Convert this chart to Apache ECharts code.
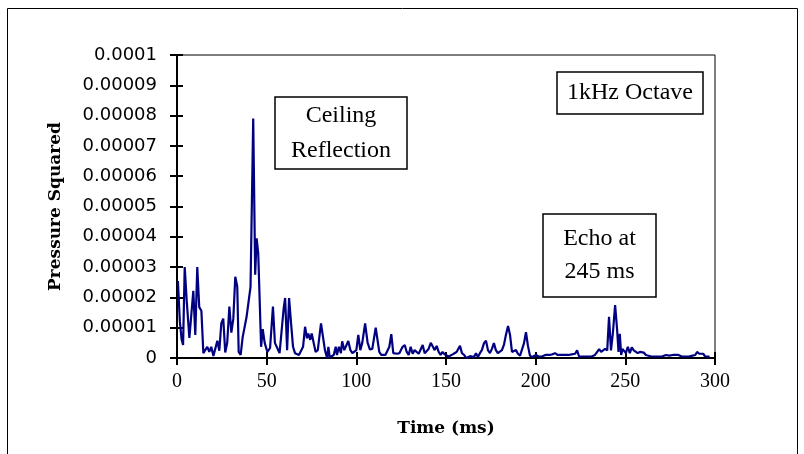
<!DOCTYPE html>
<html>
<head>
<meta charset="utf-8">
<script src="https://cdn.jsdelivr.net/npm/echarts@6/dist/echarts.min.js"></script>
<style>html,body{margin:0;padding:0;background:#fff;}#c{width:804px;height:454px;}</style>
</head>
<body>
<div id="c"></div>
<script>
// Time in ms
const times = [0.5,1.6,2.6,3.4,4.3,5.4,6.9,8.0,9.1,10.2,11.3,12.4,13.6,14.7,15.8,16.9,18.0,19.1,20.3,21.4,22.5,23.6,24.7,25.8,26.9,28.0,29.2,30.3,31.4,32.5,33.6,34.4,35.5,36.6,37.7,38.8,39.9,41.0,42.5,43.6,44.4,45.3,46.9,47.8,48.9,50.4,51.9,53.5,54.6,55.7,57.2,58.3,59.5,60.3,61.4,62.5,63.6,64.7,65.8,66.9,68.0,69.1,70.3,71.4,72.5,73.2,74.3,75.1,76.2,77.3,78.5,79.6,80.3,81.4,82.5,83.7,84.4,85.2,86.3,87.4,88.5,89.2,90.3,91.4,92.1,93.3,94.4,95.5,96.7,97.8,98.9,100.0,101.1,102.2,103.3,104.9,106.3,107.6,108.9,110.8,112.8,113.9,115.0,116.2,117.3,118.4,119.5,120.6,121.7,122.8,124.0,125.1,125.8,127.0,128.1,129.2,130.3,131.4,132.5,133.6,134.8,135.9,137.0,138.1,139.2,140.3,141.5,142.6,143.7,144.8,145.9,147.0,148.1,149.2,150.3,151.5,152.6,153.7,154.8,155.9,157.0,157.8,158.9,160.1,161.2,162.3,163.4,164.5,165.6,166.7,167.8,168.9,170.0,171.2,172.3,173.4,174.5,175.6,176.7,177.8,178.9,180.0,181.2,182.3,183.4,184.6,185.7,186.8,187.9,189.0,190.1,191.3,192.4,193.5,194.6,195.7,196.8,198.0,199.0,200.2,201.7,203.5,205.4,206.4,207.5,209.3,210.8,212.3,214.5,216.4,218.2,220.1,222.0,223.1,224.2,225.7,226.8,227.9,229.4,231.2,233.1,234.2,235.4,236.5,237.6,238.7,239.9,240.9,242.0,243.1,244.3,245.4,246.2,246.9,247.7,248.4,249.2,250.3,251.4,252.5,253.6,254.7,255.8,256.9,258.1,259.2,260.3,261.4,262.5,264.5,266.5,268.5,270.5,272.6,274.5,276.5,279.6,281.5,283.3,285.5,287.5,289.0,290.0,291.2,292.3,293.4,294.5,296.0,297.0];
// Pressure squared, in units of 0.00001
const values = [2.54,1.2,0.6,0.43,3.0,1.9,0.66,0.72,2.22,0.76,3.0,1.68,1.56,0.16,0.18,0.37,0.2,0.37,0.07,0.1,0.57,0.24,1.14,1.3,0.18,0.5,1.7,0.84,1.29,2.68,2.35,0.2,0.1,0.68,0.7,1.36,1.36,2.35,7.9,2.75,3.95,3.45,0.37,0.95,0.5,0.2,0.33,1.7,0.5,0.55,0.16,0.2,1.65,1.98,0.26,1.98,1.15,0.37,0.16,0.2,0.1,0.1,0.37,1.03,0.65,0.81,0.6,0.81,0.5,0.2,0.26,0.2,1.14,1.1,0.26,0.0,0.37,0.02,0.05,0.1,0.37,0.1,0.37,0.16,0.55,0.26,0.26,0.56,0.26,0.16,0.2,0.26,0.76,0.26,0.5,1.14,0.5,0.28,0.3,1.0,0.2,0.1,0.16,0.1,0.1,0.37,0.79,0.16,0.1,0.14,0.16,0.14,0.37,0.43,0.2,0.1,0.37,0.14,0.26,0.3,0.14,0.18,0.43,0.16,0.1,0.3,0.5,0.5,0.26,0.4,0.2,0.1,0.2,0.12,0.1,0.05,0.1,0.12,0.14,0.2,0.26,0.4,0.16,0.1,0.0,0.03,0.06,0.1,0.03,0.16,0.03,0.16,0.26,0.49,0.57,0.26,0.16,0.3,0.49,0.26,0.16,0.12,0.26,0.43,0.76,1.06,0.76,0.2,0.14,0.26,0.14,0.08,0.14,0.49,0.85,0.4,0.08,0.03,0.06,0.1,0.05,0.05,0.1,0.16,0.1,0.12,0.16,0.1,0.1,0.1,0.1,0.12,0.14,0.25,0.05,0.05,0.0,0.05,0.05,0.05,0.1,0.14,0.29,0.2,0.18,0.3,0.25,1.36,0.25,0.85,1.75,0.95,0.2,0.8,0.1,0.3,0.25,0.16,0.37,0.16,0.35,0.25,0.27,0.16,0.2,0.14,0.18,0.1,0.05,0.05,0.05,0.05,0.05,0.1,0.08,0.1,0.1,0.05,0.05,0.05,0.08,0.1,0.2,0.14,0.1,0.14,0.05,0.05,0.05];
const yTickLabels = ["0","0.00001","0.00002","0.00003","0.00004","0.00005","0.00006","0.00007","0.00008","0.00009","0.0001"];
const xTickLabels = ["0","50","100","150","200","250","300"];
const xTitle = "Time (ms)";
const yTitle = "Pressure Squared";
const notes = [
  {lines:["Ceiling","Reflection"]},
  {lines:["1kHz Octave"]},
  {lines:["Echo at","245 ms"]}
];

const data = times.map((t,i)=>[t, values[i]]);
const chart = echarts.init(document.getElementById('c'), null, {renderer:'canvas'});
const G = {left:177, right:89, top:55, bottom:96};
const serif = '"Liberation Serif", "Times New Roman", serif';
const boldSerif = '"DejaVu Serif", serif';
const sans = '"DejaVu Sans", Verdana, sans-serif';

function box(x,y,w,h,lines,fs,lh){
  const els = [{type:'rect', shape:{x:x,y:y,width:w,height:h}, style:{fill:'#fff', stroke:'#000', lineWidth:1.5}, z:10}];
  const cy = y + h/2 - (lines.length-1)*lh/2;
  lines.forEach((l,i)=>els.push({type:'text', x:x+w/2, y:cy+i*lh, style:{text:l, font:fs+'px '+serif, fill:'#000', align:'center', verticalAlign:'middle'}, z:11}));
  return els;
}

chart.setOption({
  animation:false,
  backgroundColor:'#fff',
  grid:[
    Object.assign({show:true, borderColor:'#000', borderWidth:1, backgroundColor:'transparent'}, G),
    Object.assign({show:false}, G)
  ],
  xAxis:[
    {type:'value', gridIndex:0, min:0, max:300, interval:50,
     name:xTitle, nameLocation:'middle', nameGap:62,
     nameTextStyle:{fontFamily:boldSerif, fontWeight:'bold', fontSize:17, color:'#000'},
     axisLine:{show:true, onZero:false, lineStyle:{color:'#000', width:2}},
     axisTick:{show:true, inside:false, length:7, lineStyle:{color:'#000', width:2}},
     axisLabel:{show:true, margin:14, fontFamily:serif, fontSize:20, color:'#000',
       formatter:(v)=>xTickLabels[Math.round(v/50)]},
     splitLine:{show:false}},
    {type:'value', gridIndex:1, min:0, max:300, interval:50,
     axisLine:{show:false}, axisTick:{show:true, inside:true, length:6, lineStyle:{color:'#000', width:2}},
     axisLabel:{show:false}, splitLine:{show:false}}
  ],
  yAxis:[
    {type:'value', gridIndex:0, min:0, max:10, interval:1,
     name:yTitle, nameLocation:'middle', nameGap:113, nameRotate:90,
     nameTextStyle:{fontFamily:boldSerif, fontWeight:'bold', fontSize:17, color:'#000'},
     axisLine:{show:true, onZero:false, lineStyle:{color:'#000', width:2}},
     axisTick:{show:true, inside:false, length:7, lineStyle:{color:'#000', width:2}},
     axisLabel:{show:true, margin:20, fontFamily:sans, fontSize:18, color:'#000',
       formatter:(v)=>yTickLabels[Math.round(v)]},
     splitLine:{show:false}},
    {type:'value', gridIndex:1, min:0, max:10, interval:1,
     axisLine:{show:false}, axisTick:{show:true, inside:true, length:6, lineStyle:{color:'#000', width:2}},
     axisLabel:{show:false}, splitLine:{show:false}}
  ],
  series:[{
    type:'line', xAxisIndex:0, yAxisIndex:0, data:data, symbol:'none', smooth:false,
    lineStyle:{color:'#000080', width:2.2}, z:5
  }],
  graphic:[
    {type:'rect', shape:{x:7.5,y:8.5,width:790,height:470}, style:{fill:'none', stroke:'#000', lineWidth:1}, z:1},
    ...box(275,97,132,72,notes[0].lines,24,35),
    ...box(557,72,146,42,notes[1].lines,24,32),
    ...box(543,214,113,83,notes[2].lines,24,33)
  ]
});
</script>
</body>
</html>
